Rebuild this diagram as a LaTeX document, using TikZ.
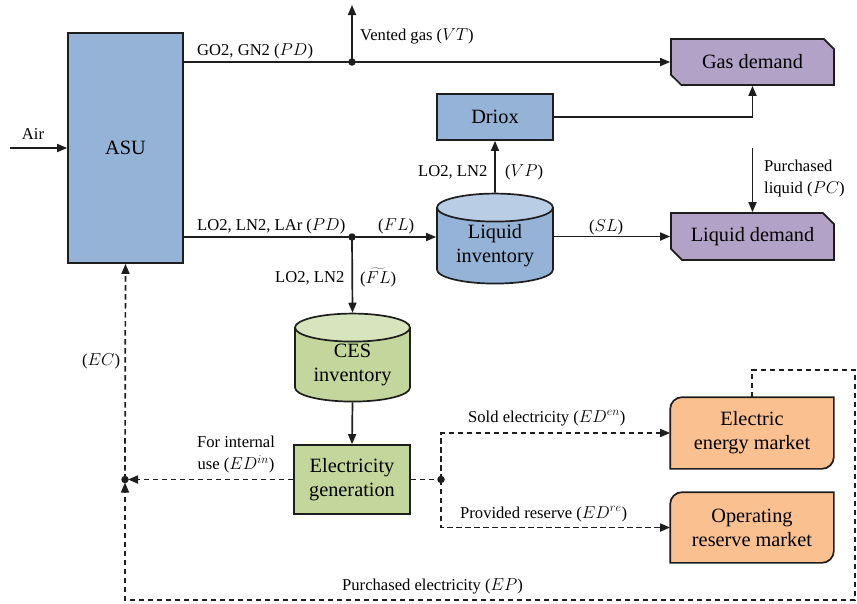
\documentclass[tikz,border=0pt]{standalone}
\usepackage{fontspec}
\setmainfont{Liberation Serif}
\usetikzlibrary{arrows.meta,shapes.geometric,shapes.misc,backgrounds}
\definecolor{bord}{HTML}{1E1E1E}
\definecolor{blueF}{HTML}{95B3D7}
\definecolor{blueT}{HTML}{B9CDE5}
\definecolor{purF}{HTML}{B3A2C7}
\definecolor{grnF}{HTML}{C3D69B}
\definecolor{grnT}{HTML}{D7E4BD}
\definecolor{orF}{HTML}{FAC090}
\tikzset{
  box/.style={draw=bord,line width=1.7pt,align=center,inner sep=0pt,
    font=\fontsize{20.3}{24}\selectfont},
  demand/.style={box,fill=purF,chamfered rectangle,
    chamfered rectangle corners={north east,south west},chamfered rectangle xsep=8pt},
  tank/.style={box,cylinder,shape border rotate=90,aspect=0.36,
    cylinder uses custom fill},
  lbl/.style={inner sep=0pt,font=\fontsize{16.6}{22}\selectfont},
  flow/.style={line width=1.7pt,draw=bord,-{Triangle[length=10pt,width=8pt]}},
  plain/.style={line width=1.7pt,draw=bord},
  dsh/.style={dash pattern=on 5.5pt off 3.5pt},
  jdot/.style={circle,fill=bord,inner sep=0pt,minimum size=7.5pt}
}
\begin{document}
\begin{tikzpicture}[x=1pt,y=1pt]
\useasboundingbox (0,0) rectangle (857,-603);
% nodes
\node[box,fill=blueF,minimum width=115pt,minimum height=230pt] (asu) at (125.5,-148) {ASU};
\node[demand,minimum width=163pt,minimum height=46pt] (gd) at (752.5,-62) {Gas demand};
\node[demand,minimum width=163pt,minimum height=47pt] (ld) at (752.5,-236.5) {Liquid demand};
\node[box,fill=blueF,minimum width=116pt,minimum height=46pt] (dr) at (495,-117) {Driox};
\node[tank,cylinder body fill=blueF,cylinder end fill=blueT,minimum width=116pt,minimum height=90pt] (li) at (495,-246) {Liquid\\inventory};
\node[tank,cylinder body fill=grnF,cylinder end fill=grnT,minimum width=115pt,minimum height=88pt] (ces) at (352.5,-365) {CES\\inventory};
\node[box,fill=grnF,minimum width=116pt,minimum height=69pt] (eg) at (352,-479.5) {Electricity\\generation};
\coordinate (em) at (752,-433);
\coordinate (orm) at (752,-527.5);
\node[box,draw=none,minimum width=162pt,minimum height=70pt] (emk) at (em) {Electric\\energy market};
\node[box,draw=none,minimum width=162pt,minimum height=69pt] (omk) at (orm) {Operating\\reserve market};
\begin{scope}[on background layer]
\foreach \n in {emk,omk}{
  \draw[draw=bord,line width=1.7pt,fill=orF]
    (\n.south west) -- ([yshift=-12pt]\n.north west) arc[start angle=180,end angle=90,radius=12pt]
    -- (\n.north east) -- ([yshift=12pt]\n.south east) arc[start angle=0,end angle=-90,radius=12pt]
    -- cycle;
}
\end{scope}
% junctions
\node[jdot] (d1) at (352,-62) {};
\node[jdot] (d2) at (352,-237) {};
\node[jdot] (d3) at (125,-479.5) {};
\node[jdot] (d4) at (441,-479.5) {};
\coordinate (air) at (10,-148);
\coordinate (vt) at (352,-5);
\coordinate (pc) at (752.5,-148);
\coordinate (c2) at (855,-370);
\coordinate (c4) at (125,-600);
% connectors
\draw[flow] (air) -- (asu.west);
\draw[plain] (asu.east |- d1) -- (d1.center);
\draw[flow] (d1.center) -- (gd.west);
\draw[flow] (d1.center) -- (vt);
\draw[flow] (dr.east) -| (gd.south);
\draw[flow] (li.north) -- (dr.south);
\draw[plain] (asu.east |- d2) -- (d2.center);
\draw[flow] (d2.center) -- (li.west |- d2);
\draw[flow] (li.east |- ld.west) -- (ld.west);
\draw[flow] (pc) -- (ld.north);
\draw[flow] (d2.center) -- (ces.north);
\draw[flow] (ces.south) -- (eg.north);
\draw[flow,dsh,shorten >=3pt] (eg.west) -- (d3.center);
\draw[flow,dsh] (d3.center) -- (asu.south);
\draw[plain,dsh] (eg.east) -- (d4.center);
\draw[flow,dsh] (d4.center) |- (emk.west);
\draw[flow,dsh] (d4.center) |- (omk.west);
\draw[flow,dsh,shorten >=3pt] (emk.north) |- (c2) |- (c4) -- (d3.center);
% labels
\node[lbl,anchor=base] at (33,-139) {Air};
\node[lbl,anchor=base west] at (197,-55) {GO2, GN2 ($PD$)};
\node[lbl,anchor=base west] at (360,-40) {Vented gas ($VT$)};
\node[lbl,anchor=base west] at (197,-230) {LO2, LN2, LAr ($PD$)};
\node[lbl,anchor=base west] at (378,-230) {($FL$)};
\node[lbl,anchor=base west] at (418,-176) {LO2, LN2};
\node[lbl,anchor=base west] at (505,-176) {($VP$)};
\node[lbl,anchor=base west] at (589,-231) {($SL$)};
\node[lbl,anchor=north west,align=left] at (764,-160) {Purchased\\liquid ($PC$)};
\node[lbl,anchor=base west] at (275,-282) {LO2, LN2};
\node[lbl,anchor=base west] at (360,-283) {($\widetilde{FL}$)};
\node[lbl,anchor=base west] at (82,-365) {($EC$)};
\node[lbl,anchor=north,align=center] at (236,-436) {For internal\\use ($ED^{in}$)};
\node[lbl,anchor=base west] at (468,-422) {Sold electricity ($ED^{en}$)};
\node[lbl,anchor=base west] at (460,-518) {Provided reserve ($ED^{re}$)};
\node[lbl,anchor=base west] at (342,-590) {Purchased electricity ($EP$)};
\end{tikzpicture}
\end{document}
